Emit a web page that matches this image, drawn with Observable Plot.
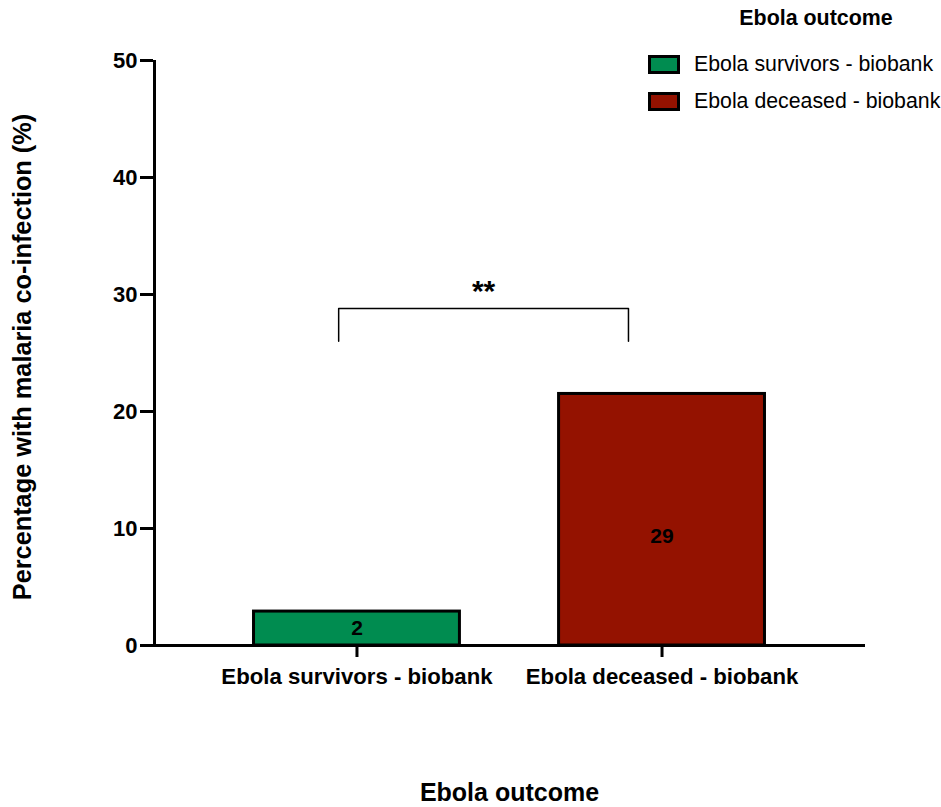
<!DOCTYPE html>
<html>
<head>
<meta charset="utf-8">
<script src="https://cdn.jsdelivr.net/npm/d3@7"></script>
<script src="https://cdn.jsdelivr.net/npm/@observablehq/plot@0.6"></script>
<style>
  html, body { margin: 0; padding: 0; background: #fff; }
  #wrap { position: relative; width: 941px; height: 807px; font-family: "Liberation Sans", Arial, sans-serif; }
  #legend { position: absolute; left: 0; top: 0; width: 941px; height: 120px; pointer-events: none; }
  .lg-title { position: absolute; left: 716px; width: 200px; text-align: center; top: 6px; font-size: 21.4px; font-weight: bold; color: #000; }
  .lg-item { position: absolute; left: 648px; height: 22px; display: flex; align-items: center; font-size: 21.3px; color: #000; white-space: nowrap; }
  .lg-sw { width: 26px; height: 13px; border: 3px solid #000; margin-right: 14px; }
</style>
</head>
<body>
<div id="wrap"><div id="chart"></div><div id="legend"></div></div>
<script>
// ---- data ----
const categories = ["Ebola survivors - biobank", "Ebola deceased - biobank"];
const percentages = [2.9, 21.5];
const counts = ["2", "29"];
const countLabelY = [1.5, 9.3];
const barColors = ["#008C50", "#941200"];
const yTicks = [0, 10, 20, 30, 40, 50];
const yTitle = "Percentage with malaria co-infection (%)";
const xTitle = "Ebola outcome";
const legendTitle = "Ebola outcome";
const sigLabel = "**";
const bracketFrom = 0.94, bracketTo = 1.89, bracketTop = 28.8, bracketBottom = 26.0, sigY = 30.3;

const rows = categories.map((c, i) => ({
  cat: c, pos: i + 1, value: percentages[i], count: counts[i], labelY: countLabelY[i], color: barColors[i]
}));
const bracket = [
  {x: bracketFrom, y: bracketBottom}, {x: bracketFrom, y: bracketTop},
  {x: bracketTo, y: bracketTop}, {x: bracketTo, y: bracketBottom}
];
const xDomain = [0.333, 2.667];
const half = 0.3375;

const font = '"Liberation Sans", Arial, sans-serif';

const chart = Plot.plot({
  width: 941,
  height: 807,
  marginLeft: 153,
  marginRight: 76,
  marginTop: 60,
  marginBottom: 162,
  style: { fontFamily: font, background: "#fff", overflow: "visible" },
  x: { type: "linear", domain: xDomain, axis: null },
  y: { domain: [0, 50], axis: null },
  marks: [
    Plot.rectY(rows, {
      x1: d => d.pos - half, x2: d => d.pos + half, y1: 0, y2: "value",
      fill: d => d.color, stroke: "#000", strokeWidth: 3, inset: 0
    }),
    Plot.text(rows, {
      x: "pos", y: "labelY", text: "count", fontSize: 21, fontWeight: "bold", fill: "#000"
    }),
    Plot.line(bracket, { x: "x", y: "y", stroke: "#000", strokeWidth: 1.5 }),
    Plot.text([sigLabel], {
      x: (bracketFrom + bracketTo) / 2, y: sigY, text: d => d, fontSize: 30, fontWeight: "bold", fill: "#000"
    }),
    // axis lines
    Plot.ruleX([xDomain[0]], { y1: 0, y2: 50, stroke: "#000", strokeWidth: 3, dx: 1 }),
    Plot.ruleY([0], { x1: xDomain[0], x2: xDomain[1], stroke: "#000", strokeWidth: 3 }),
    // y axis ticks
    Plot.axisY({
      ticks: yTicks, tickSize: 13, tickPadding: 3, strokeWidth: 3,
      fontSize: 22, fontWeight: "bold", fill: "#000", label: null, anchor: "left"
    }),
    // x axis ticks
    Plot.axisX({
      ticks: rows.map(d => d.pos), tickFormat: p => categories[p - 1],
      tickSize: 12, tickPadding: 11, strokeWidth: 3,
      fontSize: 22.2, fontWeight: "bold", fill: "#000", label: null, anchor: "bottom"
    }),
    // axis titles
    Plot.text([yTitle], {
      frameAnchor: "left", textAnchor: "middle", dx: -131, dy: 4, rotate: -90, text: d => d,
      fontSize: 25.3, fontWeight: "bold", fill: "#000"
    }),
    Plot.text([xTitle], {
      frameAnchor: "bottom", dy: 155, text: d => d,
      fontSize: 25, fontWeight: "bold", fill: "#000"
    })
  ]
});
document.getElementById("chart").appendChild(chart);

// legend
const lg = document.getElementById("legend");
const t = document.createElement("div");
t.className = "lg-title"; t.textContent = legendTitle; lg.appendChild(t);
rows.forEach((d, i) => {
  const it = document.createElement("div");
  it.className = "lg-item";
  it.style.top = (53 + i * 37) + "px";
  const sw = document.createElement("div");
  sw.className = "lg-sw"; sw.style.background = d.color;
  const tx = document.createElement("span"); tx.textContent = d.cat;
  it.appendChild(sw); it.appendChild(tx); lg.appendChild(it);
});
</script>
</body>
</html>
